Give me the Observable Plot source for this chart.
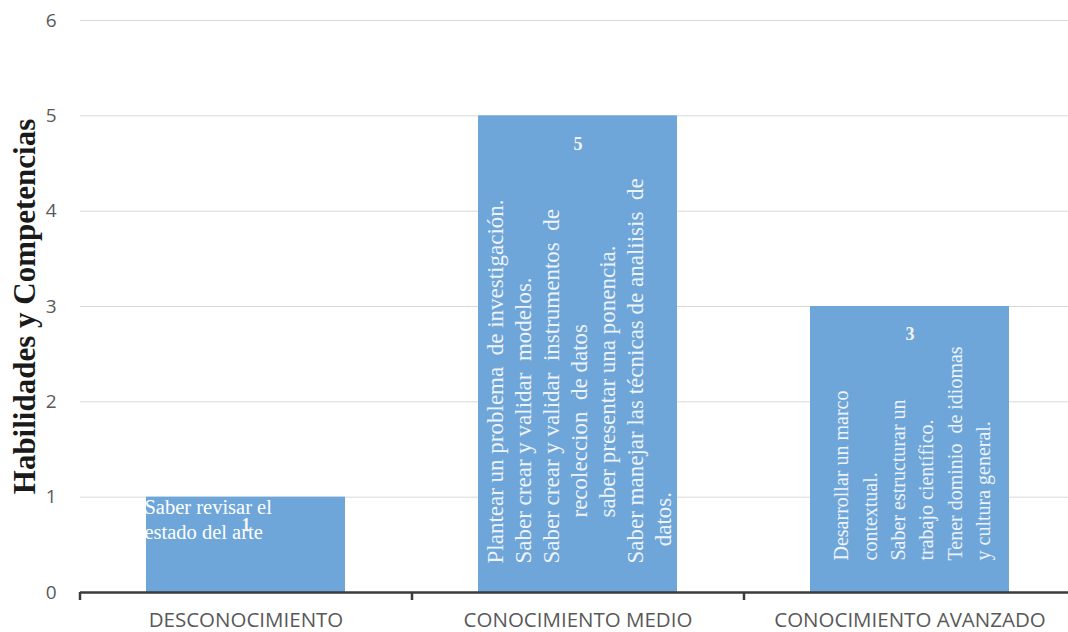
<!DOCTYPE html>
<html><head><meta charset="utf-8">
<script src="https://cdn.jsdelivr.net/npm/d3@7"></script>
<script src="https://cdn.jsdelivr.net/npm/@observablehq/plot@0.6"></script>
<style>body{margin:0;background:#fff}</style>
</head><body><div id="chart"></div>
<script>
const categories = ["DESCONOCIMIENTO", "CONOCIMIENTO MEDIO", "CONOCIMIENTO AVANZADO"];
const values = [1, 5, 3];
const flatNotes = ["Saber revisar el\nestado del arte", "", ""];
const rotatedNotes = [
  "",
  "Plantear un problema  de investigación.\nSaber crear y validar  modelos.\nSaber crear y validar  instrumentos  de\n\u00a0\u00a0\u00a0\u00a0\u00a0\u00a0\u00a0\u00a0recoleccion  de datos\n\u00a0\u00a0\u00a0\u00a0\u00a0\u00a0\u00a0\u00a0saber presentar una ponencia.\nSaber manejar las técnicas de analiisis  de\n\u00a0\u00a0\u00a0datos.",
  "Desarrollar un marco\ncontextual.\nSaber estructurar un\ntrabajo científico.\nTener dominio  de idiomas\ny cultura general."
];
const yTicks = [0, 1, 2, 3, 4, 5, 6];
const yTitle = "Habilidades y Competencias";

const data = categories.map((c, i) => ({category: c, value: values[i], flat: flatNotes[i], rotated: rotatedNotes[i]}));

const paddingInner = 0.4;
const xOpts = {type: "band", domain: categories, range: [80, 1076], paddingInner, paddingOuter: 0.2};
const bw = Plot.scale({x: xOpts}).bandwidth;
const step = bw / (1 - paddingInner);

const serif = "'Liberation Serif', 'Times New Roman', serif";

const chart = Plot.plot({
  width: 1068,
  height: 632,
  marginLeft: 80,
  marginRight: 0,
  marginTop: 20,
  marginBottom: 40,
  style: {fontFamily: "'Open Sans', sans-serif", background: "#fff"},
  x: {...xOpts, axis: null},
  y: {domain: [0, 6], axis: null},
  marks: [
    Plot.ruleY(yTicks.filter(t => t > 0), {stroke: "#d9d9d9", strokeWidth: 1}),
    Plot.barY(data, {x: "category", y: "value", fill: "#6ea6d9"}),
    Plot.ruleY([0], {stroke: "#3b3b3b", strokeWidth: 2.5}),
    Plot.axisX({tickSize: 8, tickFormat: () => "", label: null, dx: -step / 2, stroke: "#3b3b3b", strokeWidth: 2.5}),
    Plot.axisX({tickSize: 0, tickPadding: 20, label: null, fontSize: 20.5, fill: "#595959"}),
    Plot.axisY({ticks: yTicks, tickFormat: "d", label: null, tickSize: 0, tickPadding: 24, fontSize: 19, fill: "#595959"}),
    Plot.text([yTitle], {frameAnchor: "left", textAnchor: "middle", rotate: -90, dx: -55, fontFamily: serif, fontWeight: "bold", fontSize: 31, fill: "#1a1a1a"}),
    Plot.text(data, {x: "category", y: "value", text: d => String(d.value), dy: 28, fontFamily: serif, fontWeight: "bold", fontSize: 18, fill: "#f2f2f2"}),
    Plot.text(data.filter(d => d.flat), {x: "category", y: "value", text: "flat", textAnchor: "start", lineAnchor: "top", lineHeight: 1.22, dx: -bw / 2 - 2, dy: -1, fontFamily: serif, fontSize: 20.5, fill: "#ffffff"}),
    Plot.text(data.filter(d => d.category === categories[1]), {x: "category", y: 0, text: "rotated", rotate: -90, textAnchor: "start", lineAnchor: "middle", lineHeight: 1.22, dy: -29, fontFamily: serif, fontSize: 23, fill: "#eef3fa"}),
    Plot.text(data.filter(d => d.category === categories[2]), {x: "category", y: 0, text: "rotated", rotate: -90, textAnchor: "start", lineAnchor: "middle", lineHeight: 1.42, dy: -32, fontFamily: serif, fontSize: 20, fill: "#eef3fa"})
  ]
});
document.getElementById("chart").appendChild(chart);
</script>
</body></html>
